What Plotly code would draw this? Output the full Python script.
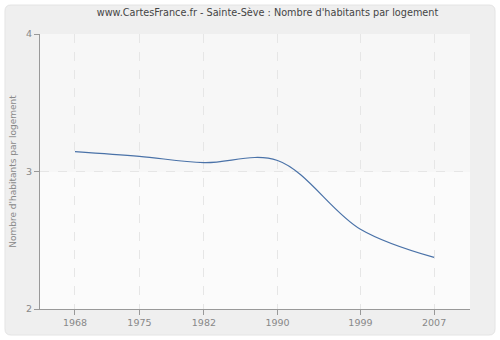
import plotly.graph_objects as go

years = [1968, 1975, 1982, 1990, 1999, 2007]
values = [3.145, 3.11, 3.065, 3.08, 2.58, 2.375]
x_ticks = [1968, 1975, 1982, 1990, 1999, 2007]
y_ticks = [2, 3, 4]

title = "www.CartesFrance.fr - Sainte-Sève : Nombre d'habitants par logement"
y_title = "Nombre d'habitants par logement"

L, R, T, B = 40, 30, 34, 31
W, H = 500, 340
pw, ph = W - L - R, H - T - B

def px_x(p):
    return (p - L) / pw

def px_y(p):
    return 1 - (p - T) / ph

def rounded(x0, y0, x1, y1, r):
    def P(x, y):
        return f"{px_x(x):.5f},{px_y(y):.5f}"
    return (f"M {P(x0 + r, y0)} L {P(x1 - r, y0)} Q {P(x1, y0)} {P(x1, y0 + r)} "
            f"L {P(x1, y1 - r)} Q {P(x1, y1)} {P(x1 - r, y1)} "
            f"L {P(x0 + r, y1)} Q {P(x0, y1)} {P(x0, y1 - r)} "
            f"L {P(x0, y0 + r)} Q {P(x0, y0)} {P(x0 + r, y0)} Z")

fig = go.Figure()
fig.add_trace(go.Scatter(
    x=years, y=values, mode="lines",
    line=dict(color="#4a72a8", width=1.2, shape="spline", smoothing=1),
    hoverinfo="skip", showlegend=False,
))

axis_common = dict(
    showgrid=True, gridcolor="#e6e6e6", griddash="dash", gridwidth=1,
    showline=True, linecolor="#999999", linewidth=1,
    ticks="outside", ticklen=5, tickcolor="#999999",
    zeroline=False, tickfont=dict(family="DejaVu Sans", size=9.5, color="#888888"),
)

fig.update_layout(
    width=W, height=H,
    margin=dict(l=L, r=R, t=T, b=B),
    paper_bgcolor="white",
    plot_bgcolor="#f9f9f9",
    font=dict(family="DejaVu Sans", size=10, color="#888888"),
    title=dict(text=title, x=(97 + 438) / 2 / W, xanchor="center", y=1 - 13 / H, yanchor="middle",
               font=dict(family="DejaVu Sans", size=9.7, color="#444444")),
    xaxis=dict(range=[1964.2, 2010.9], tickmode="array", tickvals=x_ticks,
               ticktext=[str(v) for v in x_ticks], automargin=False, **axis_common),
    yaxis=dict(range=[2, 4], tickmode="array", tickvals=y_ticks, automargin=False,
               title=dict(text=y_title, font=dict(family="DejaVu Sans", size=9, color="#888888"), standoff=7),
               **axis_common),
    shapes=[
        dict(type="path", xref="paper", yref="paper", layer="below",
             path=rounded(5, 5, 495, 335, 6),
             fillcolor="#efefef", line=dict(color="#e4e4e4", width=1)),
        dict(type="rect", xref="paper", yref="paper", layer="below",
             x0=0, x1=1, y0=0.5, y1=1, fillcolor="#f7f7f7", line=dict(width=0)),
        dict(type="rect", xref="paper", yref="paper", layer="below",
             x0=0, x1=1, y0=0, y1=0.5, fillcolor="#fbfbfb", line=dict(width=0)),
    ],
)

fig.write_html("out.html")
